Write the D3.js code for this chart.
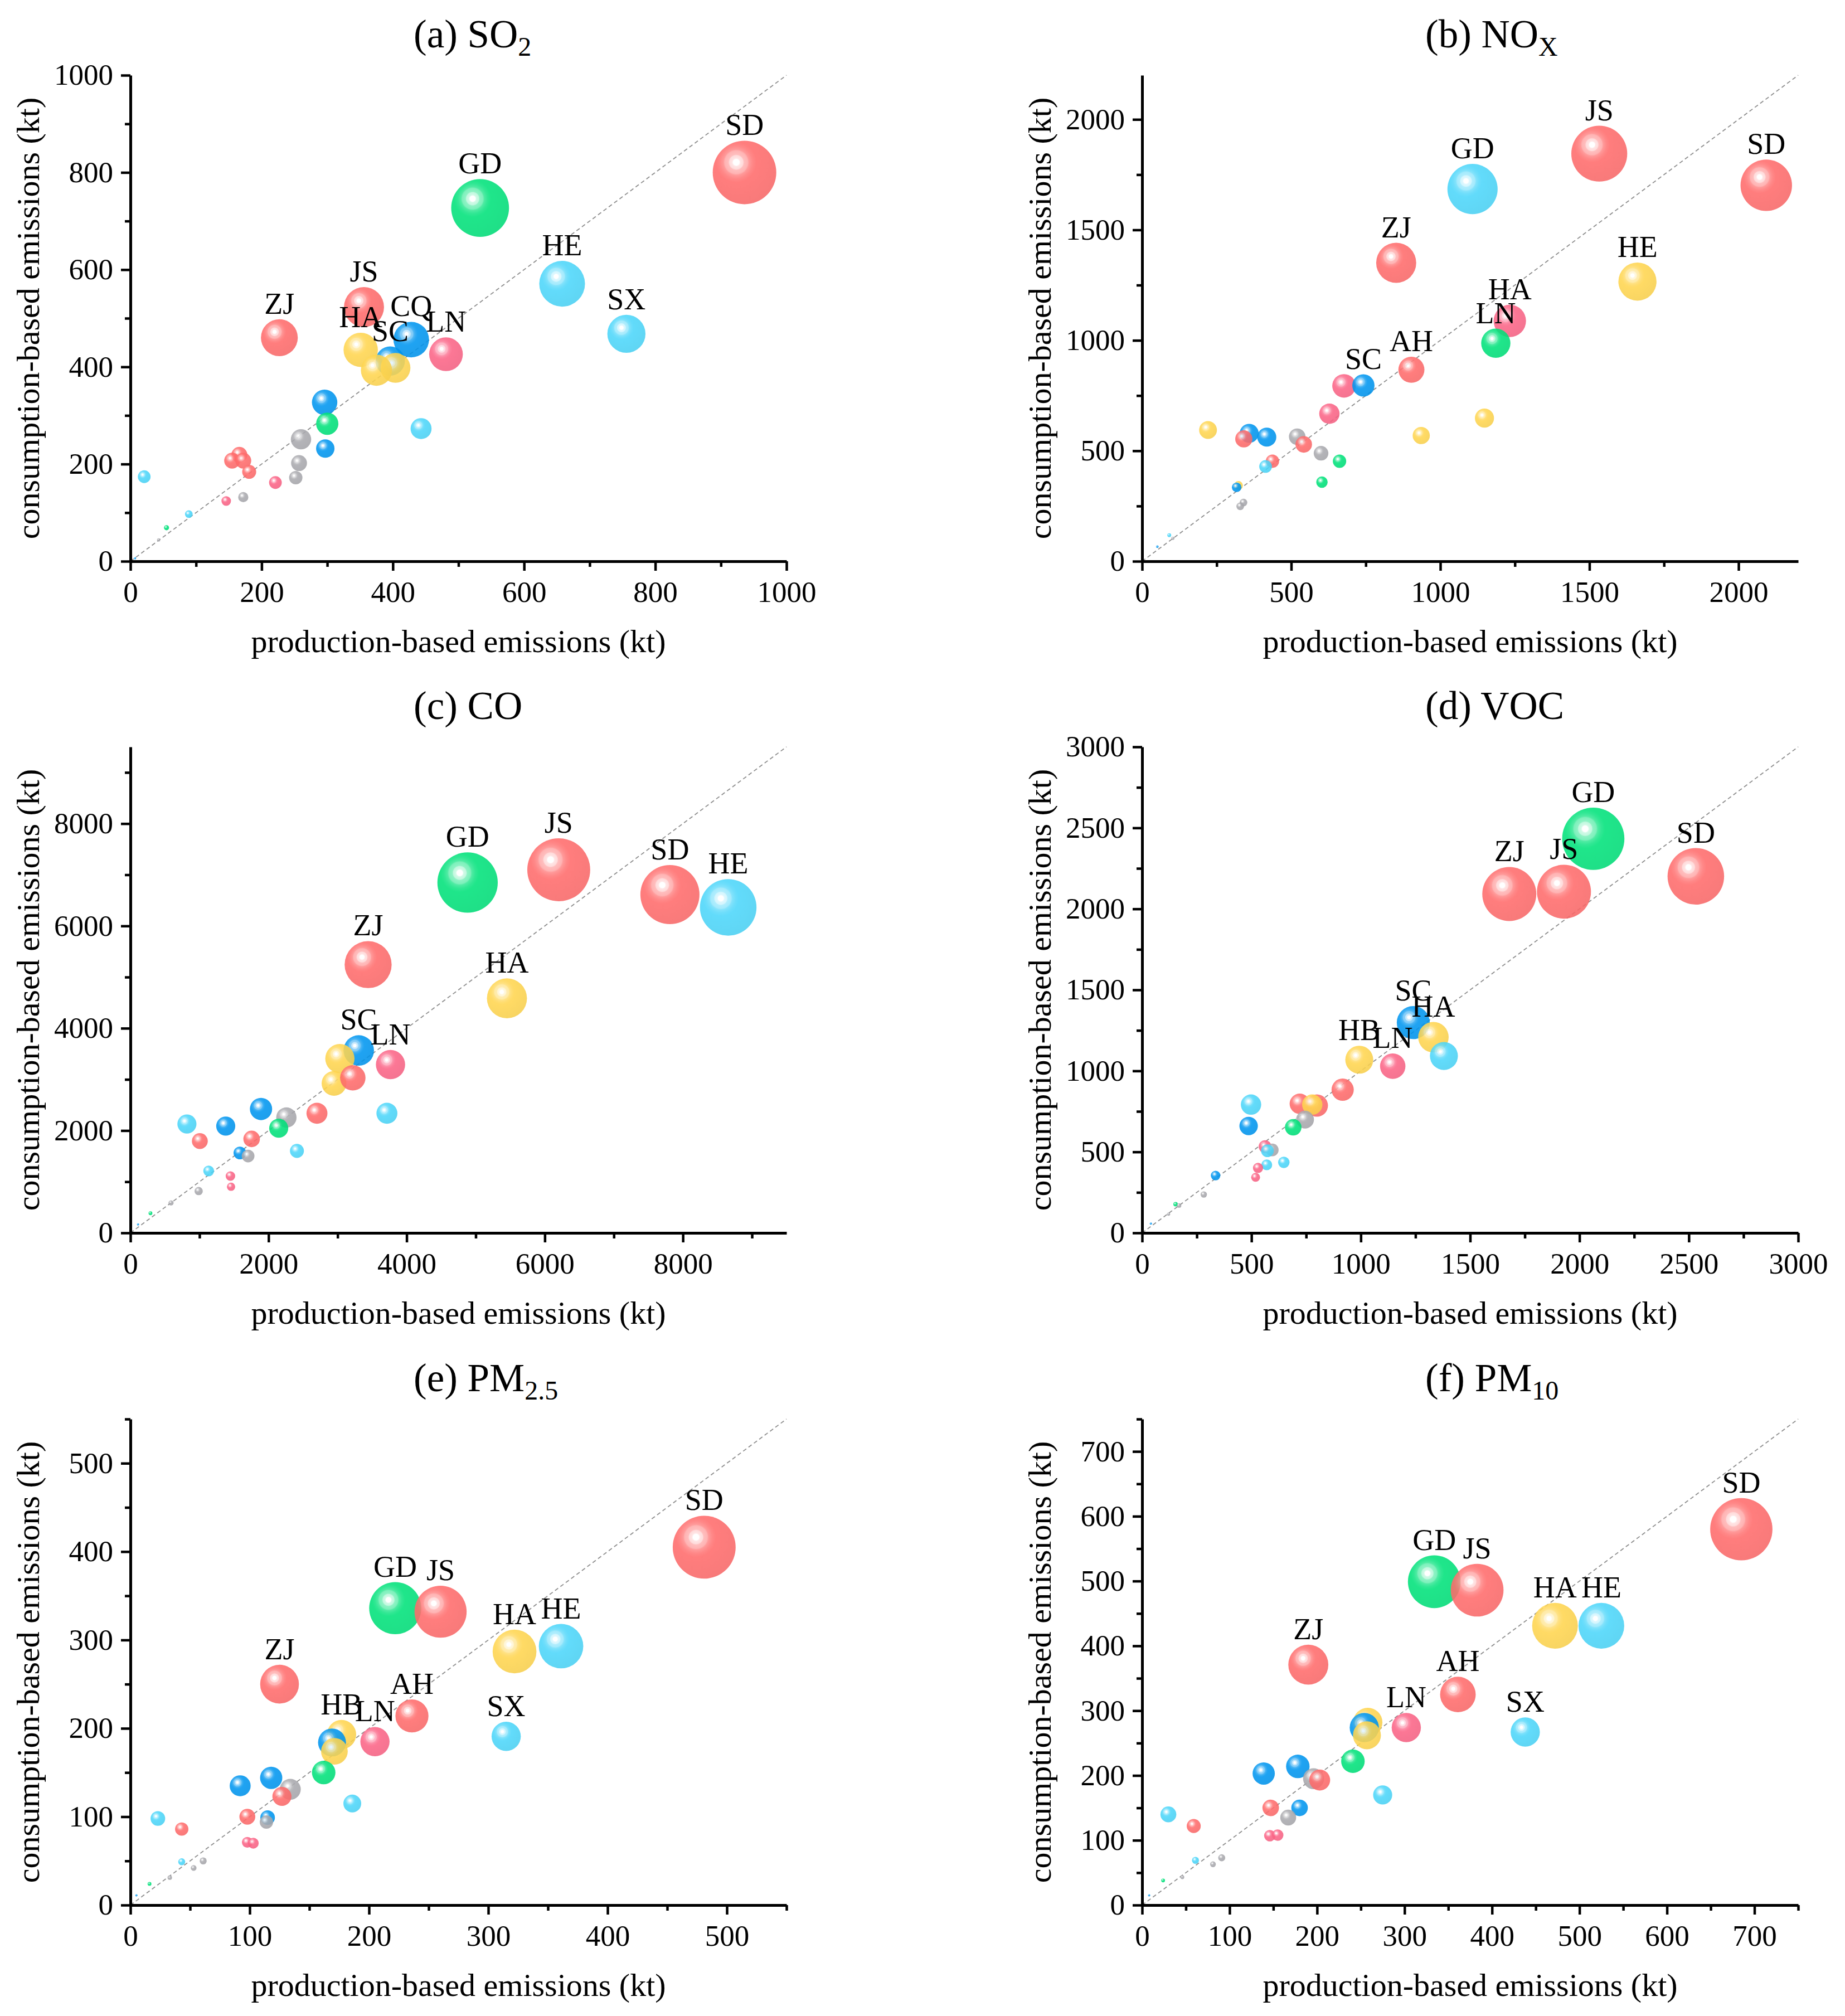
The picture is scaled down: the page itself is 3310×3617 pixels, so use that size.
<!DOCTYPE html>
<html>
<head>
<meta charset="utf-8">
<script src="https://d3js.org/d3.v7.min.js"></script>
<style>
  body { margin: 0; background: #fff; }
  text { font-family: "Liberation Serif", "Times New Roman", serif; fill: #000; }
</style>
</head>
<body>
<script>
// ---- data (kt); size = relative bubble size ----
var so2Labels = ["SD","GD","HE","SX","JS","ZJ","HA","LN","SC","","","CQ","","","","","","","","","","","","","","","","","","",""];
var so2Prod  = [936,533,658,756,356,227,351,481,396,404,375,428,296,300,443,260,297,166,155,172,181,257,252,221,146,172,21,89,55,43,7];
var so2Cons  = [800,727,571,468,523,460,435,426,412,398,393,456,327,283,273,251,232,219,207,207,184,202,172,162,124,132,174,97,69,44,6];
var so2Size  = [100,91,72,60,63,58,54,53,46,47,49,56,40,35,33,32,29,25,25,25,22,25,21,20,15,16,20,12,8,5,3.5];
var so2Color = ["R","G","C","C","R","R","Y","P","B","Y","Y","B","B","G","C","K","B","R","R","R","R","K","K","P","P","K","C","C","G","K","B"];

var noxLabels = ["SD","JS","GD","ZJ","HE","HA","LN","AH","","SC","","","","","","","","","","","","","","","","","","","","",""];
var noxProd  = [2093,1533,1108,852,1661,1233,1186,903,677,742,628,1148,936,221,359,418,341,520,542,600,662,437,414,603,323,317,340,329,91,103,51];
var noxCons  = [1702,1845,1685,1351,1266,1088,987,867,794,796,668,648,569,594,579,562,554,564,529,489,453,453,429,358,343,335,266,249,118,104,66];
var noxSize  = [81,88,79,63,60,51,46,41,37,35,32,30,27,28,30,30,27,26,26,23,21,21,20,18,14,15,12,12,6,5,4];
var noxColor = ["R","R","C","R","Y","P","G","R","P","B","P","Y","Y","Y","B","B","R","K","R","K","G","R","C","G","Y","B","K","K","C","K","B"];

var coLabels = ["SD","HE","JS","GD","ZJ","HA","SC","LN","","","","","","","","","","","","","","","","","","","","","",""];
var coProd  = [7812,8656,6202,4882,3442,5452,3306,3766,3033,2948,3220,2701,3714,1891,2258,2147,1380,818,1005,1755,1585,1704,2411,1133,1448,1457,988,588,290,110];
var coCons  = [6614,6363,7098,6848,5244,4585,3566,3290,3407,2923,3031,2338,2338,2422,2255,2046,2088,2129,1795,1837,1562,1503,1603,1211,1111,902,818,585,384,167];
var coSize  = [93,89,99,95,74,63,48,46,46,39,40,33,33,35,32,30,30,30,25,26,20,20,22,17,15,13,13,8,6,3.5];
var coColor = ["R","C","R","G","R","Y","B","P","Y","Y","R","R","C","B","K","G","B","C","R","R","B","K","C","C","P","P","K","K","G","B"];

var vocLabels = ["GD","SD","ZJ","JS","SC","HA","","HB","LN","","","","","","","","","","","","","","","","","","","","",""];
var vocProd  = [2063,2532,1679,1929,1240,1332,1380,993,1146,917,721,799,778,745,498,487,691,562,595,573,648,570,530,519,336,282,153,169,121,40];
var vocCons  = [2433,2201,2092,2106,1298,1208,1092,1069,1029,884,797,786,792,699,792,660,652,533,512,507,435,420,401,343,354,237,177,169,116,58];
var vocSize  = [98,89,85,85,52,48,44,44,40,35,32,35,32,28,32,29,26,20,20,20,18,17,16,14,15,10,7,7,5,3.5];
var vocColor = ["G","R","R","R","B","Y","C","Y","P","R","R","R","Y","K","C","B","G","P","K","C","C","C","P","P","B","K","G","K","K","B"];

var pm25Labels = ["SD","GD","JS","HE","HA","ZJ","AH","SX","LN","HB","","","","","","","","","","","","","","","","","","","","",""];
var pm25Prod  = [481,222,260,361,322,125,236,315,205,177,169,171,162,118,92,134,127,186,98,115,114,23,43,98,103,43,61,53,33,16,5];
var pm25Cons  = [405,336,332,293,287,250,214,191,185,193,184,174,150,144,135,131,123,115,100,99,94,98,86,71,70,49,50,42,31,24,11];
var pm25Size  = [99,82,82,70,69,61,52,46,46,46,44,42,37,35,33,33,30,28,25,23,21,23,21,17,17,11,11,9,7,6,3.5];
var pm25Color = ["R","G","R","C","Y","R","R","C","P","Y","B","Y","G","B","B","K","R","C","R","B","K","C","R","P","P","C","K","K","K","G","B"];

var pm10Labels = ["SD","GD","JS","HA","HE","ZJ","AH","SX","LN","","","","","","","","","","","","","","","","","","","","","",""];
var pm10Prod  = [685,334,383,472,525,190,361,438,302,258,254,257,241,178,139,196,203,275,180,147,167,30,59,146,155,61,91,81,46,24,8];
var pm10Cons  = [580,499,486,431,431,371,325,267,274,282,274,262,222,214,203,195,193,170,150,150,135,140,122,107,108,69,73,63,43,38,15];
var pm10Size  = [98,83,83,72,72,63,56,46,46,46,46,44,37,37,35,33,33,30,26,26,25,25,22,18,18,11,11,9,6,6,3.5];
var pm10Color = ["R","G","R","Y","C","R","R","C","P","Y","B","Y","G","B","B","K","R","C","B","R","K","C","R","P","P","C","K","K","K","G","B"];

var palette = { R: "#ff6b6b", G: "#00e27a", C: "#4cd6fa", B: "#0096f0", Y: "#ffd54f", P: "#fb6486", K: "#a9a9ae" };

var panels = [
    { title: "(a) SO", sub: "2", max: 1000, major: 200, minor: 100, labels: so2Labels, prod: so2Prod, cons: so2Cons, size: so2Size, color: so2Color },
    { title: "(b) NO", sub: "X", max: 2200, major: 500, minor: 250, labels: noxLabels, prod: noxProd, cons: noxCons, size: noxSize, color: noxColor },
    { title: "(c) CO", sub: "", max: 9500, major: 2000, minor: 1000, labels: coLabels, prod: coProd, cons: coCons, size: coSize, color: coColor },
    { title: "(d) VOC", sub: "", max: 3000, major: 500, minor: 250, labels: vocLabels, prod: vocProd, cons: vocCons, size: vocSize, color: vocColor },
    { title: "(e) PM", sub: "2.5", max: 550, major: 100, minor: 50, labels: pm25Labels, prod: pm25Prod, cons: pm25Cons, size: pm25Size, color: pm25Color },
    { title: "(f) PM", sub: "10", max: 750, major: 100, minor: 50, labels: pm10Labels, prod: pm10Prod, cons: pm10Cons, size: pm10Size, color: pm10Color }
];

var W = 3310, H = 3617;
var plotW = 1177, plotH = 872;
var colX = [234, 2049], rowY = [135, 1340, 2546];

var svg = d3.select("body").append("svg")
    .attr("width", W)
    .attr("height", H);

svg.append("rect").attr("width", W).attr("height", H).attr("fill", "#fff");

/* glossy bubble gradients */
var defs = svg.append("defs");
Object.keys(palette).forEach(function (k) {
    var base = palette[k];
    var mix = function (t) { return d3.interpolateRgb(base, "#ffffff")(t); };
    var grad = defs.append("radialGradient")
        .attr("id", "grad_" + k)
        .attr("cx", 0.37).attr("cy", 0.34).attr("r", 0.72)
        .attr("fx", 0.37).attr("fy", 0.34);
    var stops = [
        [0, "#ffffff"], [0.065, "#ffffff"], [0.09, mix(0.8)], [0.15, mix(0.72)],
        [0.17, mix(0.5)], [0.25, mix(0.42)], [0.28, mix(0.22)], [0.36, mix(0.08)],
        [0.44, base], [1, d3.color(base).darker(0.1).formatHex()]
    ];
    stops.forEach(function (s) {
        grad.append("stop").attr("offset", s[0]).attr("stop-color", s[1]);
    });
});

var rScale = d3.scaleLinear().domain([0, 100]).range([0, 57]);

panels.forEach(function (p, i) {
    var x0 = colX[i % 2], y0 = rowY[Math.floor(i / 2)];
    var g = svg.append("g").attr("transform", "translate(" + x0 + "," + y0 + ")");

    var x = d3.scaleLinear().domain([0, p.max]).range([0, plotW]);
    var y = d3.scaleLinear().domain([0, p.max]).range([plotH, 0]);

    // 1:1 line
    g.append("line")
        .attr("x1", x(0)).attr("y1", y(0))
        .attr("x2", x(p.max)).attr("y2", y(p.max))
        .attr("stroke", "#8e8e8e")
        .attr("stroke-width", 1.8)
        .attr("stroke-dasharray", "7,5");

    var data = p.prod.map(function (v, j) {
        return { px: v, cy: p.cons[j], s: p.size[j], c: p.color[j], lab: p.labels[j] };
    });

    g.selectAll("circle.bub")
        .data(data)
        .enter()
        .append("circle")
        .attr("class", "bub")
        .attr("cx", function (d) { return x(d.px); })
        .attr("cy", function (d) { return y(d.cy); })
        .attr("r", function (d) { return rScale(d.s); })
        .attr("fill", function (d) { return "url(#grad_" + d.c + ")"; })
        .attr("fill-opacity", 0.88);

    g.selectAll("text.lab")
        .data(data.filter(function (d) { return d.lab !== ""; }))
        .enter()
        .append("text")
        .attr("class", "lab")
        .attr("x", function (d) { return x(d.px); })
        .attr("y", function (d) { return y(d.cy) - rScale(d.s) - 10; })
        .attr("text-anchor", "middle")
        .attr("font-size", 54)
        .text(function (d) { return d.lab; });

    var majors = d3.range(0, p.max + 1e-9, p.major);
    var minors = d3.range(p.minor, p.max + 1e-9, p.minor).filter(function (v) {
        return Math.abs(v / p.major - Math.round(v / p.major)) > 1e-6;
    });

    // minor ticks first
    g.append("g")
        .attr("transform", "translate(0," + plotH + ")")
        .call(d3.axisBottom(x).tickValues(minors).tickSize(10).tickFormat(""))
        .call(function (a) { a.select(".domain").remove(); });
    g.append("g")
        .call(d3.axisLeft(y).tickValues(minors).tickSize(10).tickFormat(""))
        .call(function (a) { a.select(".domain").remove(); });

    var xAxis = g.append("g")
        .attr("transform", "translate(0," + plotH + ")")
        .call(d3.axisBottom(x).tickValues(majors).tickSize(17).tickSizeOuter(0).tickPadding(18).tickFormat(d3.format("d")));
    var yAxis = g.append("g")
        .call(d3.axisLeft(y).tickValues(majors).tickSize(17).tickSizeOuter(0).tickPadding(14).tickFormat(d3.format("d")));

    [xAxis, yAxis].forEach(function (a) {
        a.selectAll("text")
            .attr("font-size", 53)
            .style("font-family", "'Liberation Serif', 'Times New Roman', serif")
            .attr("fill", "#000");
        a.select(".domain").attr("stroke-width", 5).attr("stroke", "#000");
    });
    g.selectAll(".tick line").attr("stroke-width", 4.5).attr("stroke", "#000");

    // titles
    var t = g.append("text")
        .attr("x", 508)
        .attr("y", -50)
        .attr("font-size", 71);
    t.append("tspan").text(p.title);
    if (p.sub) {
        t.append("tspan").attr("font-size", 48).attr("dy", 15).text(p.sub);
    }

    g.append("text")
        .attr("x", plotW / 2)
        .attr("y", plotH + 163)
        .attr("text-anchor", "middle")
        .attr("font-size", 58)
        .text("production-based emissions (kt)");

    g.append("text")
        .attr("transform", "translate(-164," + (plotH / 2) + ") rotate(-90)")
        .attr("text-anchor", "middle")
        .attr("font-size", 58)
        .text("consumption-based emissions (kt)");
});
</script>
</body>
</html>
